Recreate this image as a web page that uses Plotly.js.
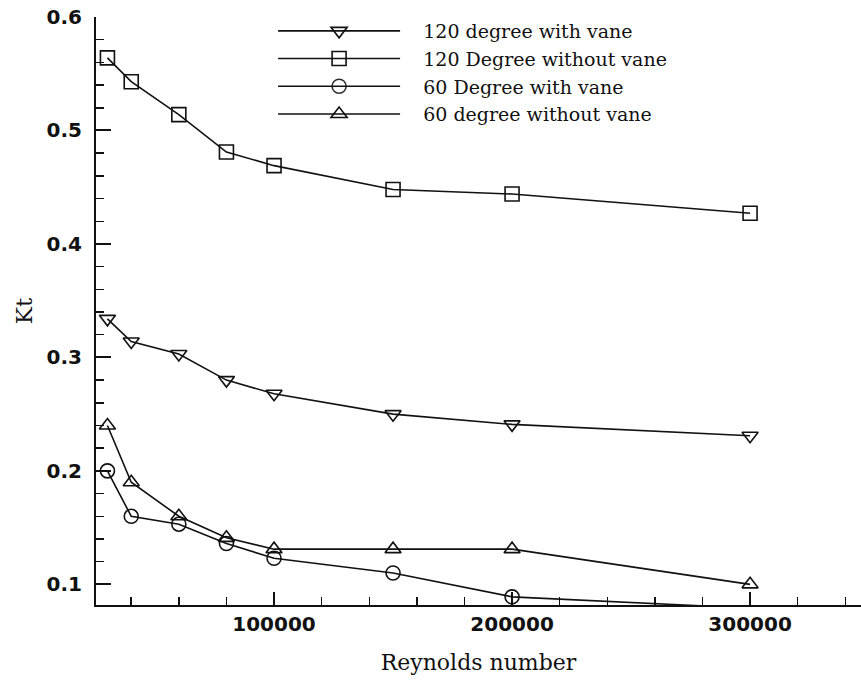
<!DOCTYPE html>
<html>
<head>
<meta charset="utf-8">
<script src="https://cdn.plot.ly/plotly-3.0.1.min.js"></script>
<style>html,body{margin:0;padding:0;background:#fff;}#chart{width:861px;height:682px;}</style>
</head>
<body>
<div id="chart"></div>
<script>
var reynolds = [30000, 40000, 60000, 80000, 100000, 150000, 200000, 300000];
var kt120With = [0.334, 0.314, 0.303, 0.280, 0.268, 0.250, 0.241, 0.231];
var kt120Without = [0.564, 0.543, 0.514, 0.481, 0.469, 0.448, 0.444, 0.427];
var kt60With = [0.200, 0.160, 0.153, 0.136, 0.123, 0.110, 0.089, 0.079];
var kt60Without = [0.240, 0.190, 0.160, 0.141, 0.131, 0.131, 0.131, 0.100];
var seriesNames = ["120 degree with vane", "120 Degree without vane", "60 Degree with vane", "60 degree without vane"];
var seriesSymbols = ["triangle-down-open", "square-open", "circle-open", "triangle-up-open"];
var seriesValues = [kt120With, kt120Without, kt60With, kt60Without];
var xTitle = "Reynolds number";
var yTitle = "Kt";

var yMin = 0.0818;
var pad = "\u00a0\u00a0\u00a0";

var traces = seriesValues.map(function (vals, i) {
  // points below the visible axis range are hidden (as in the original figure)
  var opac = vals.map(function (v) { return v < yMin ? 0 : 1; });
  return {
    x: reynolds,
    y: vals,
    name: pad + seriesNames[i],
    type: "scatter",
    mode: "lines+markers",
    line: {color: "#111", width: 1.6},
    marker: {symbol: seriesSymbols[i], size: 14, color: "#111", opacity: opac, line: {color: "#111", width: 1.6}},
    cliponaxis: true
  };
});

var tickFont = {family: "DejaVu Sans", size: 20, color: "#111", weight: "bold"};
var layout = {
  width: 861, height: 682,
  margin: {l: 96, r: 0, t: 17, b: 77, pad: 0},
  paper_bgcolor: "#fff", plot_bgcolor: "#fff",
  showlegend: true,
  legend: {
    x: 0.2315, y: 1.0085, xanchor: "left", yanchor: "top",
    font: {family: "DejaVu Serif", size: 19, color: "#111"},
    itemwidth: 122, tracegroupgap: 0, bgcolor: "rgba(0,0,0,0)"
  },
  xaxis: {
    range: [25200, 346600],
    tick0: 0, dtick: 100000, tickformat: "d",
    ticks: "inside", ticklen: 13, tickwidth: 2, tickcolor: "#111",
    minor: {dtick: 20000, tick0: 0, ticks: "inside", ticklen: 8, tickwidth: 1.5, tickcolor: "#111"},
    showline: true, linecolor: "#111", linewidth: 2, mirror: false,
    showgrid: false, zeroline: false,
    tickfont: tickFont, ticklabelstandoff: 0,
    title: {text: xTitle, font: {family: "DejaVu Serif", size: 22, color: "#111"}, standoff: 20}
  },
  yaxis: {
    range: [yMin, 0.6],
    tick0: 0, dtick: 0.1, tickformat: ".1f",
    ticks: "inside", ticklen: 15, tickwidth: 2, tickcolor: "#111",
    minor: {dtick: 0.02, tick0: 0, ticks: "inside", ticklen: 8, tickwidth: 1.5, tickcolor: "#111"},
    showline: true, linecolor: "#111", linewidth: 2, mirror: false,
    showgrid: false, zeroline: false,
    tickfont: tickFont, ticklabelstandoff: 8,
    title: {text: yTitle, font: {family: "DejaVu Serif", size: 23, color: "#111"}, standoff: 8}
  }
};

Plotly.newPlot("chart", traces, layout, {displayModeBar: false, staticPlot: true});
</script>
</body>
</html>
